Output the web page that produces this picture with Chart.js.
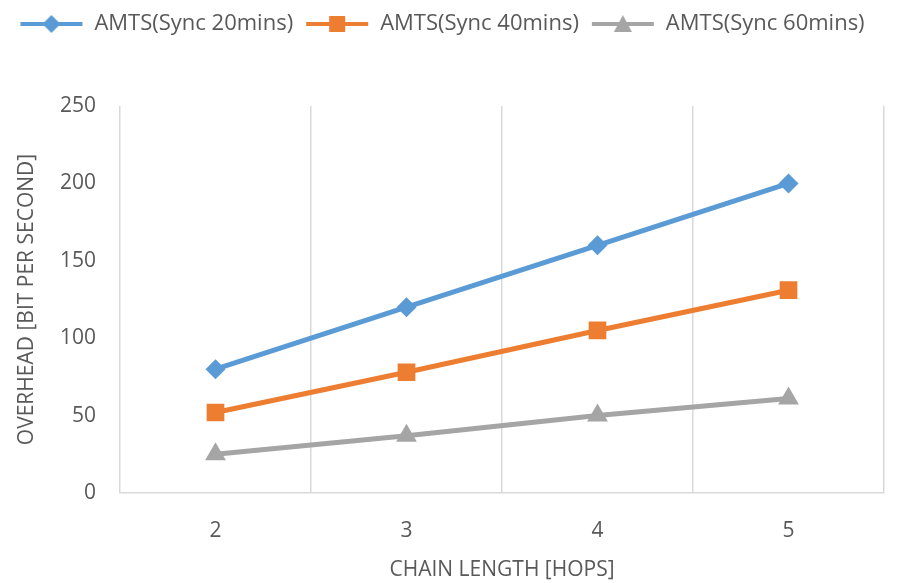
<!DOCTYPE html>
<html>
<head>
<meta charset="utf-8">
<script src="https://cdn.jsdelivr.net/npm/chart.js@4.4.1/dist/chart.umd.min.js"></script>
<style>
  html, body { margin: 0; padding: 0; background: #fff; }
  #wrap { width: 902px; height: 583px; }
</style>
</head>
<body>
<div id="wrap"><canvas id="chart" width="902" height="583"></canvas></div>
<script>
var hops = ['2', '3', '4', '5'];
var sync20 = [80, 120, 160, 200];
var sync40 = [52, 78, 105, 131];
var sync60 = [25, 37, 50, 61];

var FONT = "'Open Sans', sans-serif";
var TEXT = '#595959';

// legend swatch: short line with the marker on top, like the office-style legend
function swatch(color, style) {
  var c = document.createElement('canvas');
  c.width = 64; c.height = 22;
  var g = c.getContext('2d');
  g.strokeStyle = color; g.lineWidth = 4;
  g.beginPath(); g.moveTo(1, 11); g.lineTo(63, 11); g.stroke();
  g.fillStyle = color;
  g.beginPath();
  if (style === 'diamond') {
    g.moveTo(32, 2); g.lineTo(41, 11); g.lineTo(32, 20); g.lineTo(23, 11);
  } else if (style === 'square') {
    g.rect(24, 3, 16, 16);
  } else {
    g.moveTo(32, 2); g.lineTo(41, 19); g.lineTo(23, 19);
  }
  g.closePath(); g.fill();
  return c;
}

var series = [
  { label: 'AMTS(Sync 20mins)', data: sync20, color: '#5B9BD5', point: 'rectRot', mark: 'diamond', r: 10 },
  { label: 'AMTS(Sync 40mins)', data: sync40, color: '#ED7D31', point: 'rect', mark: 'square', r: 12.5 },
  { label: 'AMTS(Sync 60mins)', data: sync60, color: '#A5A5A5', point: 'triangle', mark: 'triangle', r: 12 }
];

var legendGap = {
  id: 'legendGap',
  beforeInit: function (chart) {
    var fit = chart.legend.fit;
    chart.legend.fit = function () {
      fit.bind(chart.legend)();
      this.height += 61;
    };
  }
};

new Chart(document.getElementById('chart'), {
  type: 'line',
  data: {
    labels: hops,
    datasets: series.map(function (s) {
      return {
        label: s.label,
        data: s.data,
        borderColor: s.color,
        backgroundColor: s.color,
        borderWidth: 5,
        pointStyle: s.point,
        pointRadius: s.r,
        pointHoverRadius: s.r,
        pointBorderWidth: 0,
        tension: 0,
        swatch: swatch(s.color, s.mark)
      };
    })
  },
  options: {
    responsive: false,
    animation: false,
    layout: { padding: { top: 1, right: 18, left: 0, bottom: 0 } },
    plugins: {
      tooltip: { enabled: false },
      legend: {
        position: 'top',
        align: 'center',
        labels: {
          usePointStyle: true,
          pointStyleWidth: 64,
          boxHeight: 22,
          padding: 12,
          color: TEXT,
          font: { family: FONT, size: 22 },
          generateLabels: function (chart) {
            return chart.data.datasets.map(function (ds, i) {
              return {
                text: ds.label,
                fillStyle: ds.borderColor,
                strokeStyle: ds.borderColor,
                pointStyle: ds.swatch,
                fontColor: TEXT,
                lineWidth: 0,
                datasetIndex: i
              };
            });
          }
        }
      }
    },
    scales: {
      x: {
        offset: true,
        grid: { offset: true, color: '#d9d9d9', lineWidth: 1.5, drawTicks: false },
        border: { color: '#d9d9d9', width: 1.5 },
        ticks: { color: TEXT, padding: 25, font: { family: FONT, size: 21 } },
        title: {
          display: true, text: 'CHAIN LENGTH [HOPS]', color: TEXT,
          font: { family: FONT, size: 21 }, padding: { top: 10, bottom: 0 }
        },
        afterFit: function (scale) { scale.height = 90; }
      },
      y: {
        min: 0, max: 250,
        grid: { display: false, drawTicks: false },
        border: { display: false },
        ticks: { stepSize: 50, color: TEXT, padding: 24, font: { family: FONT, size: 21 } },
        title: {
          display: true, text: 'OVERHEAD [BIT PER SECOND]', color: TEXT,
          font: { family: FONT, size: 21 }, padding: { top: 14, bottom: 0 }
        },
        afterFit: function (scale) { scale.width = 120; }
      }
    }
  },
  plugins: [legendGap]
});
</script>
</body>
</html>
